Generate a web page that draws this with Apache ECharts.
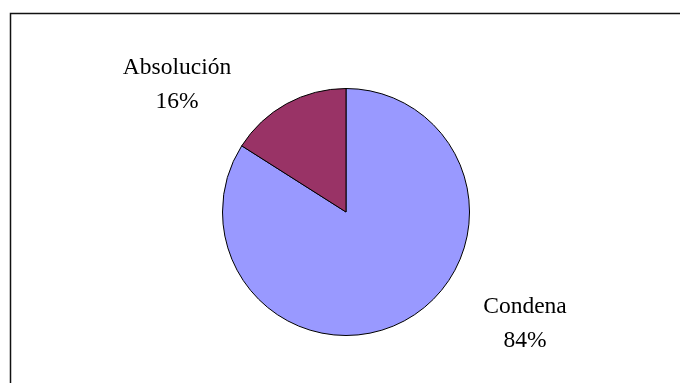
<!DOCTYPE html>
<html>
<head>
<meta charset="utf-8">
<script src="https://cdn.jsdelivr.net/npm/echarts@6/dist/echarts.min.js"></script>
<style>
html,body{margin:0;padding:0;background:#fff;}
#c{width:680px;height:383px;}
</style>
</head>
<body>
<div id="c"></div>
<script>
const categories = ['Condena', 'Absolución'];
const values = [84, 16];
const colors = ['#9999FF', '#993366'];

const labelPos = [[525, 324], [177, 85]];

const chart = echarts.init(document.getElementById('c'), null, {renderer: 'canvas'});
chart.setOption({
  backgroundColor: '#fff',
  animation: false,
  graphic: [{
    type: 'rect',
    shape: {x: 10.5, y: 13.5, width: 700, height: 400},
    style: {fill: 'none', stroke: '#111', lineWidth: 1.5},
    silent: true
  }],
  series: [{
    type: 'pie',
    center: [346, 212],
    radius: 123.5,
    startAngle: 90,
    clockwise: true,
    data: categories.map((c, i) => ({name: c, value: values[i], itemStyle: {color: colors[i]}})),
    itemStyle: {borderColor: '#000', borderWidth: 1},
    label: {
      show: true,
      position: 'outside',
      formatter: '{b}\n{d}%',
      fontFamily: '"Liberation Serif", "Times New Roman", serif',
      fontSize: 23.5,
      lineHeight: 34,
      color: '#000',
      align: 'center'
    },
    labelLine: {show: false},
    labelLayout: function (p) {
      const pos = labelPos[p.dataIndex];
      return {x: pos[0], y: pos[1], align: 'center', verticalAlign: 'middle'};
    },
    emphasis: {disabled: true}
  }]
});
</script>
</body>
</html>
